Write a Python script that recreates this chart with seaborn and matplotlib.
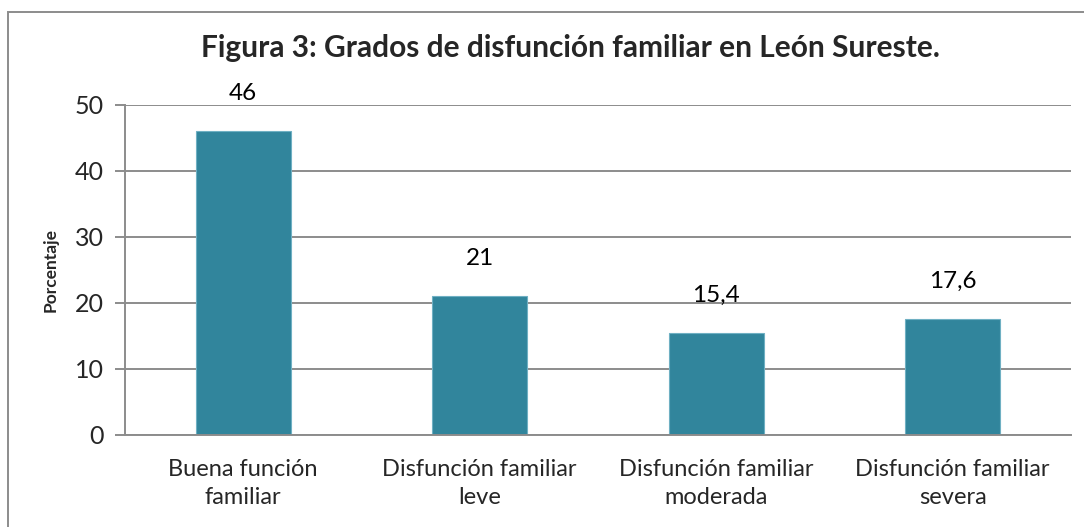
import pandas as pd
import seaborn as sns
import matplotlib.pyplot as plt
from matplotlib.patches import Rectangle

categorias = ["Buena función\nfamiliar", "Disfunción familiar\nleve",
              "Disfunción familiar\nmoderada", "Disfunción familiar\nsevera"]
porcentajes = [46, 21, 15.4, 17.6]
etiquetas = ["46", "21", "15,4", "17,6"]

sns.set_theme(style="white")
plt.rcParams["font.family"] = ["Lato", "DejaVu Sans"]

df = pd.DataFrame({"categoria": categorias, "porcentaje": porcentajes})

fig = plt.figure(figsize=(10.84, 5.27), dpi=100)
ax = fig.add_axes([0.1153, 0.1746, 0.8727, 0.6262])

sns.barplot(data=df, x="categoria", y="porcentaje", color="#31859C",
            saturation=1, width=0.4, edgecolor="#6FB0C3", linewidth=0.8, ax=ax)

for i, (v, t) in enumerate(zip(porcentajes, etiquetas)):
    ax.text(i, v + 5.7, t, ha="center", va="center", fontsize=17.5, color="black")

ax.set_ylim(0, 50)
ax.set_xlim(-0.5, 3.5)
ax.set_yticks(range(0, 51, 10))
ax.yaxis.grid(True, color="#8C8C8C", linewidth=1.4)
ax.set_axisbelow(True)
for s in ["top", "right"]:
    ax.spines[s].set_visible(False)
ax.spines["left"].set_color("#8C8C8C")
ax.spines["left"].set_linewidth(1.4)
ax.spines["bottom"].set_color("#8C8C8C")
ax.spines["bottom"].set_linewidth(1.4)
ax.tick_params(axis="y", left=True, length=7, width=1.4, color="#8C8C8C",
               labelsize=18, pad=8)
ax.tick_params(axis="x", bottom=False, labelsize=17, pad=11)
for lbl in ax.get_xticklabels():
    lbl.set_linespacing(1.45)
ax.set_xlabel("")
ax.set_ylabel("Porcentaje", fontsize=12.5, fontweight="bold", labelpad=12)

fig.text(0.526, 0.909, "Figura 3: Grados de disfunción familiar en León Sureste.",
         ha="center", va="center", fontsize=21.5, fontweight="bold")

# borde del área del gráfico
fig.patches.append(Rectangle((8 / 1084, -0.05), 1.2, 1 - 12 / 527 + 0.05,
                             transform=fig.transFigure, fill=False,
                             edgecolor="#8C8C8C", linewidth=1.4))

fig.savefig("out.png", dpi=100)
